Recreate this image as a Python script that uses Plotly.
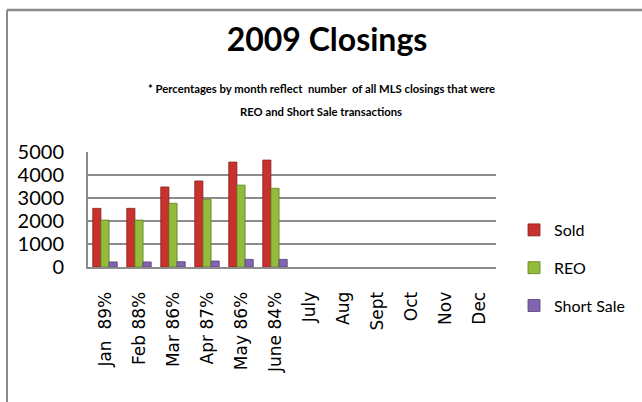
import plotly.graph_objects as go

months = ["Jan  89%", "Feb 88%", "Mar 86%", "Apr 87%", "May 86%", "June 84%",
          "July", "Aug", "Sept", "Oct", "Nov", "Dec"]
sold = [2550, 2550, 3480, 3740, 4560, 4650, None, None, None, None, None, None]
reo = [2040, 2040, 2770, 2940, 3560, 3420, None, None, None, None, None, None]
short_sale = [220, 220, 230, 260, 330, 330, None, None, None, None, None, None]
y_ticks = [0, 1000, 2000, 3000, 4000, 5000]

W, H = 642, 402
L, R, T, B = 88, 146, 152, 135

fig = go.Figure()
series = [("Sold", sold, "#C8322E", "#8E1F1C"),
          ("REO", reo, "#93BB3C", "#5F7F22"),
          ("Short Sale", short_sale, "#8364B0", "#56407A")]
for name, vals, col, edge in series:
    fig.add_trace(go.Bar(x=months, y=vals, name=name, legendgroup=name,
                         marker=dict(color=col, line=dict(color=edge, width=0.8))))

pw, ph = W - L - R, H - T - B
def px(x):
    return (x - L) / pw
def py(y):
    return (H - B - y) / ph

FONT = "Lato, Open Sans, sans-serif"
fig.update_layout(
    width=W, height=H,
    margin=dict(l=L, r=R, t=T, b=B, pad=0, autoexpand=False),
    paper_bgcolor="white", plot_bgcolor="white",
    barmode="group", bargap=0.28, bargroupgap=0.0,
    font=dict(family=FONT, color="black"),
    title=dict(text="<b>2009 Closings</b>", xref="paper", x=px(327), xanchor="center",
               y=1 - 40 / H, yanchor="middle",
               font=dict(size=32, family=FONT, color="black")),
    showlegend=True,
    legend=dict(x=px(514), y=py(213), xanchor="left", yanchor="top",
                traceorder="grouped", tracegroupgap=14,
                font=dict(size=16, family=FONT),
                itemwidth=30, bgcolor="rgba(0,0,0,0)"),
    xaxis=dict(type="category", tickangle=-90, showgrid=False,
               showline=True, linecolor="#8c8c8c", linewidth=2,
               ticks="", tickfont=dict(size=17, family="DejaVu Sans", color="black"),
               ticklabelstandoff=16, automargin=False),
    yaxis=dict(range=[0, 5000], tickvals=y_ticks, showgrid=True,
               gridcolor="#8c8c8c", gridwidth=2, zeroline=False,
               showline=True, linecolor="#8c8c8c", linewidth=2,
               ticks="", tickfont=dict(size=20, family=FONT, color="black"),
               ticklabelstandoff=18, automargin=False),
    annotations=[
        dict(text="<b>* Percentages by month reflect  number  of all MLS closings that were</b>",
             x=px(321), xref="paper", y=py(88), yref="paper", xanchor="center", yanchor="middle",
             showarrow=False, font=dict(size=11.3, family=FONT)),
        dict(text="<b>REO and Short Sale transactions</b>",
             x=px(321), xref="paper", y=py(111), yref="paper", xanchor="center", yanchor="middle",
             showarrow=False, font=dict(size=11.3, family=FONT)),
    ],
    shapes=[
        dict(type="line", xref="paper", yref="paper", x0=px(7), x1=px(660), y0=py(10), y1=py(10),
             line=dict(color="#8a8a8a", width=2.5)),
        dict(type="line", xref="paper", yref="paper", x0=px(7), x1=px(7), y0=py(10), y1=py(420),
             line=dict(color="#8a8a8a", width=2)),
    ],
)

fig.write_html("out.html", config={"displayModeBar": False},
               post_script="document.body.style.margin='0';document.body.style.overflow='hidden';")
